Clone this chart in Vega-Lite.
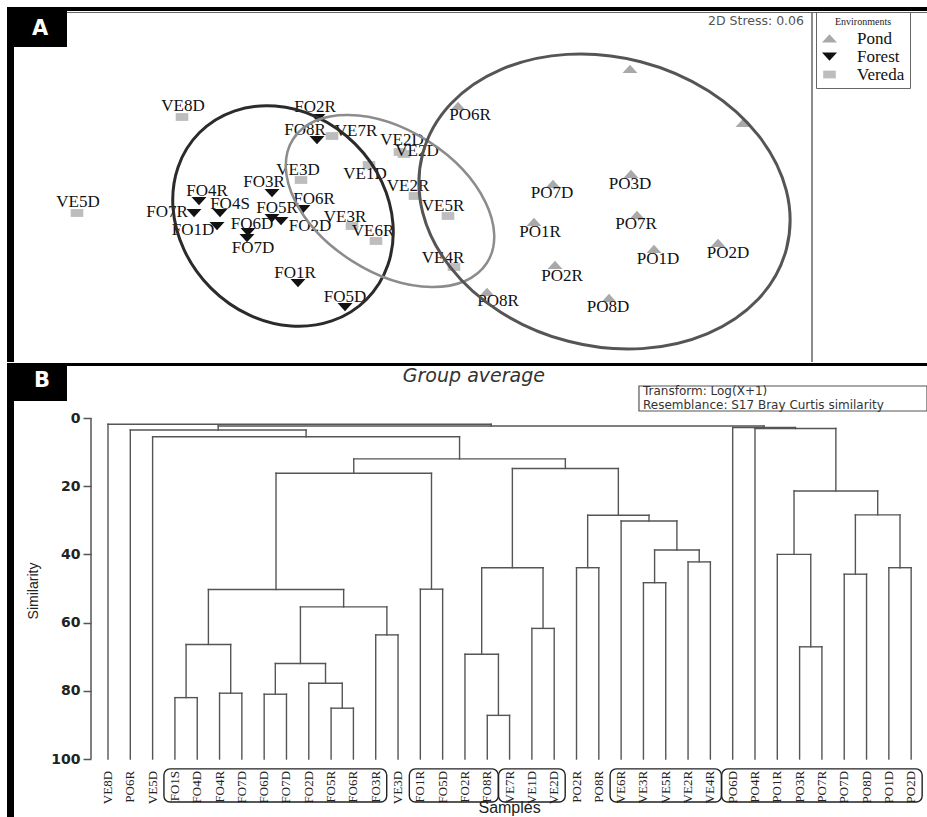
{
"$schema": "https://vega.github.io/schema/vega-lite/v6.json",
"padding": {"left": 7, "top": 7, "right": 0, "bottom": 0},
"spacing": 0,
"background": "white",
"config": {"view": {"stroke": null}, "axis": {"grid": false}},
"datasets": {
"nmds": [
{"sample":"PO6R","env":"Pond","nmds1":458,"nmds2":106},
{"sample":"PO6D","env":"Pond","nmds1":630,"nmds2":69},
{"sample":"PO4R","env":"Pond","nmds1":743,"nmds2":123},
{"sample":"PO3D","env":"Pond","nmds1":631,"nmds2":174},
{"sample":"PO7D","env":"Pond","nmds1":553,"nmds2":184},
{"sample":"PO7R","env":"Pond","nmds1":637,"nmds2":215},
{"sample":"PO1R","env":"Pond","nmds1":534,"nmds2":222},
{"sample":"PO2D","env":"Pond","nmds1":718,"nmds2":243},
{"sample":"PO1D","env":"Pond","nmds1":654,"nmds2":249},
{"sample":"PO2R","env":"Pond","nmds1":555,"nmds2":265},
{"sample":"PO8R","env":"Pond","nmds1":487,"nmds2":292},
{"sample":"PO8D","env":"Pond","nmds1":609,"nmds2":298},
{"sample":"FO2R","env":"Forest","nmds1":318,"nmds2":118},
{"sample":"FO8R","env":"Forest","nmds1":317,"nmds2":140},
{"sample":"FO3R","env":"Forest","nmds1":272,"nmds2":193},
{"sample":"FO4R","env":"Forest","nmds1":199,"nmds2":201},
{"sample":"FO7R","env":"Forest","nmds1":194,"nmds2":213},
{"sample":"FO4S","env":"Forest","nmds1":220,"nmds2":213},
{"sample":"FO5R","env":"Forest","nmds1":272,"nmds2":218},
{"sample":"FO2D","env":"Forest","nmds1":281,"nmds2":221},
{"sample":"FO6R","env":"Forest","nmds1":303,"nmds2":209},
{"sample":"FO1D","env":"Forest","nmds1":217,"nmds2":226},
{"sample":"FO6D","env":"Forest","nmds1":248,"nmds2":232},
{"sample":"FO7D","env":"Forest","nmds1":247,"nmds2":238},
{"sample":"FO1R","env":"Forest","nmds1":298,"nmds2":283},
{"sample":"FO5D","env":"Forest","nmds1":345,"nmds2":307},
{"sample":"VE8D","env":"Vereda","nmds1":182,"nmds2":117},
{"sample":"VE5D","env":"Vereda","nmds1":77,"nmds2":213},
{"sample":"VE7R","env":"Vereda","nmds1":332,"nmds2":136},
{"sample":"VE2D","env":"Vereda","nmds1":400,"nmds2":152},
{"sample":"VE2D","env":"Vereda","nmds1":404,"nmds2":154},
{"sample":"VE3D","env":"Vereda","nmds1":301,"nmds2":180},
{"sample":"VE1D","env":"Vereda","nmds1":369,"nmds2":165},
{"sample":"VE3R","env":"Vereda","nmds1":352,"nmds2":226},
{"sample":"VE6R","env":"Vereda","nmds1":376,"nmds2":241},
{"sample":"VE2R","env":"Vereda","nmds1":415,"nmds2":196},
{"sample":"VE5R","env":"Vereda","nmds1":448,"nmds2":216},
{"sample":"VE4R","env":"Vereda","nmds1":454,"nmds2":267}
],
"nmdsLabels": [
{"label":"PO6R","x":470,"y":115},{"label":"PO3D","x":630,"y":184},{"label":"PO7D","x":552,"y":193},
{"label":"PO7R","x":636,"y":224},{"label":"PO1R","x":540,"y":232},{"label":"PO2D","x":728,"y":253},
{"label":"PO1D","x":658,"y":259},{"label":"PO2R","x":562,"y":276},{"label":"PO8R","x":498,"y":301},
{"label":"PO8D","x":608,"y":307},
{"label":"FO2R","x":315,"y":107},{"label":"FO8R","x":305,"y":130},{"label":"FO3R","x":264,"y":182},
{"label":"FO4R","x":207,"y":191},{"label":"FO7R","x":167,"y":212},{"label":"FO4S","x":230,"y":204},
{"label":"FO5R","x":277,"y":208},{"label":"FO2D","x":310,"y":226},{"label":"FO6R","x":314,"y":199},
{"label":"FO1D","x":193,"y":230},{"label":"FO6D","x":252,"y":224},{"label":"FO7D","x":253,"y":248},
{"label":"FO1R","x":295,"y":273},{"label":"FO5D","x":345,"y":297},
{"label":"VE8D","x":183,"y":106},{"label":"VE5D","x":78,"y":202},{"label":"VE7R","x":356,"y":131},
{"label":"VE2D","x":402,"y":140},{"label":"VE2D","x":417,"y":151},{"label":"VE3D","x":298,"y":170},
{"label":"VE1D","x":365,"y":174},{"label":"VE3R","x":345,"y":217},{"label":"VE6R","x":373,"y":231},
{"label":"VE2R","x":408,"y":186},{"label":"VE5R","x":443,"y":206},{"label":"VE4R","x":443,"y":258}
],
"ellipses": [
{"env":"Forest","cx":283,"cy":216},
{"env":"Vereda","cx":390,"cy":201},
{"env":"Pond","cx":604.5,"cy":201.5}
],
"leaves": [
{"i":0,"name":"VE8D"},{"i":1,"name":"PO6R"},{"i":2,"name":"VE5D"},{"i":3,"name":"FO1S"},{"i":4,"name":"FO4D"},
{"i":5,"name":"FO4R"},{"i":6,"name":"FO7D"},{"i":7,"name":"FO6D"},{"i":8,"name":"FO7D"},{"i":9,"name":"FO2D"},
{"i":10,"name":"FO5R"},{"i":11,"name":"FO6R"},{"i":12,"name":"FO3R"},{"i":13,"name":"VE3D"},{"i":14,"name":"FO1R"},
{"i":15,"name":"FO5D"},{"i":16,"name":"FO2R"},{"i":17,"name":"FO8R"},{"i":18,"name":"VE7R"},{"i":19,"name":"VE1D"},
{"i":20,"name":"VE2D"},{"i":21,"name":"PO2R"},{"i":22,"name":"PO8R"},{"i":23,"name":"VE6R"},{"i":24,"name":"VE3R"},
{"i":25,"name":"VE5R"},{"i":26,"name":"VE2R"},{"i":27,"name":"VE4R"},{"i":28,"name":"PO6D"},{"i":29,"name":"PO4R"},
{"i":30,"name":"PO1R"},{"i":31,"name":"PO3R"},{"i":32,"name":"PO7R"},{"i":33,"name":"PO7D"},{"i":34,"name":"PO8D"},
{"i":35,"name":"PO1D"},{"i":36,"name":"PO2D"}
],
"nodes": [
{"node":"A","xl":3,"hl":100,"xr":4,"hr":100,"h":82.0},
{"node":"B","xl":5,"hl":100,"xr":6,"hr":100,"h":80.7},
{"node":"C","xl":3.5,"hl":82.0,"xr":5.5,"hr":80.7,"h":66.4},
{"node":"D","xl":7,"hl":100,"xr":8,"hr":100,"h":81.0},
{"node":"E","xl":10,"hl":100,"xr":11,"hr":100,"h":85.1},
{"node":"F","xl":9,"hl":100,"xr":10.5,"hr":85.1,"h":77.8},
{"node":"G","xl":7.5,"hl":81.0,"xr":9.75,"hr":77.8,"h":72.0},
{"node":"H","xl":12,"hl":100,"xr":13,"hr":100,"h":63.6},
{"node":"I","xl":8.625,"hl":72.0,"xr":12.5,"hr":63.6,"h":55.4},
{"node":"J","xl":4.5,"hl":66.4,"xr":10.5625,"hr":55.4,"h":50.3},
{"node":"K","xl":14,"hl":100,"xr":15,"hr":100,"h":50.2},
{"node":"L","xl":7.53125,"hl":50.3,"xr":14.5,"hr":50.2,"h":16.2},
{"node":"M","xl":17,"hl":100,"xr":18,"hr":100,"h":87.2},
{"node":"N","xl":16,"hl":100,"xr":17.5,"hr":87.2,"h":69.3},
{"node":"O","xl":19,"hl":100,"xr":20,"hr":100,"h":61.7},
{"node":"P","xl":16.75,"hl":69.3,"xr":19.5,"hr":61.7,"h":43.9},
{"node":"Q","xl":21,"hl":100,"xr":22,"hr":100,"h":43.9},
{"node":"R","xl":24,"hl":100,"xr":25,"hr":100,"h":48.3},
{"node":"S","xl":26,"hl":100,"xr":27,"hr":100,"h":42.2},
{"node":"T","xl":24.5,"hl":48.3,"xr":26.5,"hr":42.2,"h":38.7},
{"node":"U","xl":23,"hl":100,"xr":25.5,"hr":38.7,"h":30.2},
{"node":"V","xl":21.5,"hl":43.9,"xr":24.25,"hr":30.2,"h":28.5},
{"node":"W","xl":18.125,"hl":43.9,"xr":22.875,"hr":28.5,"h":14.8},
{"node":"X","xl":11.015625,"hl":16.2,"xr":20.5,"hr":14.8,"h":12.0},
{"node":"Y","xl":2,"hl":100,"xr":15.7578,"hr":12.0,"h":5.5},
{"node":"Z","xl":1,"hl":100,"xr":8.8789,"hr":5.5,"h":3.5},
{"node":"a","xl":31,"hl":100,"xr":32,"hr":100,"h":67.1},
{"node":"b","xl":30,"hl":100,"xr":31.5,"hr":67.1,"h":40.0},
{"node":"c","xl":33,"hl":100,"xr":34,"hr":100,"h":45.8},
{"node":"d","xl":35,"hl":100,"xr":36,"hr":100,"h":43.9},
{"node":"e","xl":33.5,"hl":45.8,"xr":35.5,"hr":43.9,"h":28.4},
{"node":"f","xl":30.75,"hl":40.0,"xr":34.5,"hr":28.4,"h":21.4},
{"node":"g","xl":29,"hl":100,"xr":32.625,"hr":21.4,"h":3.1},
{"node":"h","xl":28,"hl":100,"xr":30.8125,"hr":3.1,"h":2.8},
{"node":"i","xl":4.9395,"hl":3.5,"xr":29.40625,"hr":2.8,"h":2.35},
{"node":"root","xl":0,"hl":100,"xr":17.1729,"hr":2.35,"h":1.85}
],
"groups": [
{"from":3,"to":12},{"from":14,"to":17},{"from":18,"to":20},{"from":23,"to":27},{"from":28,"to":36}
]
},
"vconcat": [
{
"width": 920, "height": 355,
"layer": [
{"data": {"values": [{}]}, "mark": {"type": "rect", "color": "black"},
 "encoding": {"x": {"datum": 7, "type": "quantitative", "scale": {"domain": [7, 927], "nice": false, "zero": false}, "axis": null},
  "x2": {"datum": 927}, "y": {"datum": 7, "type": "quantitative", "scale": {"domain": [7, 362], "nice": false, "zero": false, "reverse": true}, "axis": null}, "y2": {"datum": 11}}},
{"data": {"values": [{}]}, "mark": {"type": "rect", "color": "black"},
 "encoding": {"x": {"datum": 7, "type": "quantitative", "scale": {"domain": [7, 927], "nice": false, "zero": false}, "axis": null},
  "x2": {"datum": 14}, "y": {"datum": 7, "type": "quantitative", "scale": {"domain": [7, 362], "nice": false, "zero": false, "reverse": true}, "axis": null}, "y2": {"datum": 362}}},
{"data": {"values": [{}]}, "mark": {"type": "rect", "color": "black"},
 "encoding": {"x": {"datum": 7, "type": "quantitative", "scale": {"domain": [7, 927], "nice": false, "zero": false}, "axis": null},
  "x2": {"datum": 67}, "y": {"datum": 7, "type": "quantitative", "scale": {"domain": [7, 362], "nice": false, "zero": false, "reverse": true}, "axis": null}, "y2": {"datum": 47}}},
{"data": {"values": [{}]}, "mark": {"type": "text", "text": "A", "color": "white", "font": "DejaVu Sans", "fontWeight": "bold", "fontSize": 21, "align": "center", "baseline": "middle"},
 "encoding": {"x": {"datum": 40, "type": "quantitative", "scale": {"domain": [7, 927], "nice": false, "zero": false}, "axis": null},
  "y": {"datum": 29, "type": "quantitative", "scale": {"domain": [7, 362], "nice": false, "zero": false, "reverse": true}, "axis": null}}},
{"data": {"values": [{}]}, "mark": {"type": "rule", "color": "#666", "strokeWidth": 1},
 "encoding": {"x": {"datum": 67, "type": "quantitative", "scale": {"domain": [7, 927], "nice": false, "zero": false}, "axis": null},
  "x2": {"datum": 927}, "y": {"datum": 12.5, "type": "quantitative", "scale": {"domain": [7, 362], "nice": false, "zero": false, "reverse": true}, "axis": null}}},
{"data": {"values": [{}]}, "mark": {"type": "rule", "color": "#666", "strokeWidth": 1.5},
 "encoding": {"x": {"datum": 812, "type": "quantitative", "scale": {"domain": [7, 927], "nice": false, "zero": false}, "axis": null},
  "y": {"datum": 12, "type": "quantitative", "scale": {"domain": [7, 362], "nice": false, "zero": false, "reverse": true}, "axis": null}, "y2": {"datum": 362}}},
{"data": {"values": [{}]}, "mark": {"type": "text", "text": "2D Stress: 0.06", "color": "#555", "font": "DejaVu Sans", "fontSize": 12.5, "align": "right", "baseline": "middle"},
 "encoding": {"x": {"datum": 804, "type": "quantitative", "scale": {"domain": [7, 927], "nice": false, "zero": false}, "axis": null},
  "y": {"datum": 21, "type": "quantitative", "scale": {"domain": [7, 362], "nice": false, "zero": false, "reverse": true}, "axis": null}}},
{"data": {"name": "nmds"},
 "mark": {"type": "point", "filled": true, "opacity": 1, "size": 144, "strokeWidth": 0},
 "encoding": {
  "x": {"field": "nmds1", "type": "quantitative", "scale": {"domain": [7, 927], "nice": false, "zero": false}, "axis": null},
  "y": {"field": "nmds2", "type": "quantitative", "scale": {"domain": [7, 362], "nice": false, "zero": false, "reverse": true}, "axis": null},
  "shape": {"field": "env", "type": "nominal", "title": "Environments",
   "scale": {"domain": ["Pond", "Forest", "Vereda"], "range": ["M 0 -0.7 L 1.25 0.65 L -1.25 0.65 Z", "M 0 0.7 L 1.25 -0.65 L -1.25 -0.65 Z", "M -1.05 -0.65 L 1.05 -0.65 L 1.05 0.65 L -1.05 0.65 Z"]},
   "legend": {"orient": "none", "legendX": 809, "legendY": 5, "direction": "vertical", "titleFont": "Liberation Serif", "titleFontSize": 10, "titleFontWeight": "normal", "titleColor": "#222", "titleAnchor": "middle", "titlePadding": 3, "labelFont": "Liberation Serif", "labelFontSize": 17, "labelColor": "#111", "labelOffset": 19, "symbolSize": 144, "symbolStrokeWidth": 0, "symbolOpacity": 1, "strokeColor": "#666", "padding": 5, "rowPadding": 0, "labelLimit": 200}},
  "color": {"field": "env", "type": "nominal", "title": "Environments",
   "scale": {"domain": ["Pond", "Forest", "Vereda"], "range": ["#a9a9a9", "#111111", "#bdbdbd"]},
   "legend": {"orient": "none", "legendX": 809, "legendY": 5, "direction": "vertical", "titleFont": "Liberation Serif", "titleFontSize": 10, "titleFontWeight": "normal", "titleColor": "#222", "titleAnchor": "middle", "titlePadding": 3, "labelFont": "Liberation Serif", "labelFontSize": 17, "labelColor": "#111", "labelOffset": 19, "symbolSize": 144, "symbolStrokeWidth": 0, "symbolOpacity": 1, "strokeColor": "#666", "padding": 5, "rowPadding": 0, "labelLimit": 200}}
 }},
{"data": {"name": "nmdsLabels"},
 "mark": {"type": "text", "font": "Liberation Serif", "fontSize": 17, "color": "#111", "align": "center", "baseline": "middle"},
 "encoding": {
  "x": {"field": "x", "type": "quantitative", "scale": {"domain": [7, 927], "nice": false, "zero": false}, "axis": null},
  "y": {"field": "y", "type": "quantitative", "scale": {"domain": [7, 362], "nice": false, "zero": false, "reverse": true}, "axis": null},
  "text": {"field": "label"}}},
{"data": {"name": "ellipses"}, "transform": [{"filter": "datum.env === 'Forest'"}],
 "mark": {"type": "point", "filled": false, "opacity": 1, "color": "#2b2b2b", "strokeWidth": 3, "size": 55696, "angle": 45,
  "shape": "M 1 0 C 1 0.4772 0.5523 0.864 0 0.864 C -0.5523 0.864 -1 0.4772 -1 0 C -1 -0.4772 -0.5523 -0.864 0 -0.864 C 0.5523 -0.864 1 -0.4772 1 0 Z"},
 "encoding": {
  "x": {"field": "cx", "type": "quantitative", "scale": {"domain": [7, 927], "nice": false, "zero": false}, "axis": null},
  "y": {"field": "cy", "type": "quantitative", "scale": {"domain": [7, 362], "nice": false, "zero": false, "reverse": true}, "axis": null}}},
{"data": {"name": "ellipses"}, "transform": [{"filter": "datum.env === 'Vereda'"}],
 "mark": {"type": "point", "filled": false, "opacity": 1, "color": "#8c8c8c", "strokeWidth": 2.5, "size": 52900, "angle": 32.5,
  "shape": "M 1 0 C 1 0.3408 0.5523 0.617 0 0.617 C -0.5523 0.617 -1 0.3408 -1 0 C -1 -0.3408 -0.5523 -0.617 0 -0.617 C 0.5523 -0.617 1 -0.3408 1 0 Z"},
 "encoding": {
  "x": {"field": "cx", "type": "quantitative", "scale": {"domain": [7, 927], "nice": false, "zero": false}, "axis": null},
  "y": {"field": "cy", "type": "quantitative", "scale": {"domain": [7, 362], "nice": false, "zero": false, "reverse": true}, "axis": null}}},
{"data": {"name": "ellipses"}, "transform": [{"filter": "datum.env === 'Pond'"}],
 "mark": {"type": "point", "filled": false, "opacity": 1, "color": "#555555", "strokeWidth": 3, "size": 141376, "angle": 14.5,
  "shape": "M 1 0 C 1 0.4242 0.5523 0.768 0 0.768 C -0.5523 0.768 -1 0.4242 -1 0 C -1 -0.4242 -0.5523 -0.768 0 -0.768 C 0.5523 -0.768 1 -0.4242 1 0 Z"},
 "encoding": {
  "x": {"field": "cx", "type": "quantitative", "scale": {"domain": [7, 927], "nice": false, "zero": false}, "axis": null},
  "y": {"field": "cy", "type": "quantitative", "scale": {"domain": [7, 362], "nice": false, "zero": false, "reverse": true}, "axis": null}}}
]
},
{
"width": 920, "height": 455,
"layer": [
{"data": {"name": "nodes"},
 "mark": {"type": "rule", "color": "#555", "strokeWidth": 1.4, "strokeCap": "square"},
 "encoding": {
  "x": {"field": "xl", "type": "quantitative", "scale": {"domain": [-4.527, 36.71], "nice": false, "zero": false}, "axis": null},
  "x2": {"field": "xr"},
  "y": {"field": "h", "type": "quantitative", "title": "Similarity", "scale": {"domain": [-16.13, 117.3], "nice": false, "zero": false, "reverse": true},
   "axis": {"values": [0, 20, 40, 60, 80, 100], "offset": -84, "domain": false, "tickSize": 8, "tickColor": "#555", "tickWidth": 1.5, "labelFont": "DejaVu Sans", "labelFontWeight": "bold", "labelFontSize": 14, "labelColor": "#222", "labelPadding": 3, "titleFont": "Liberation Sans", "titleFontSize": 14, "titleFontWeight": "normal", "titleColor": "#222", "titlePadding": 10, "grid": false}}}},
{"data": {"name": "nodes"},
 "mark": {"type": "rule", "color": "#555", "strokeWidth": 1.4, "strokeCap": "square"},
 "encoding": {
  "x": {"field": "xl", "type": "quantitative", "scale": {"domain": [-4.527, 36.71], "nice": false, "zero": false}, "axis": null},
  "y": {"field": "hl", "type": "quantitative", "title": "Similarity", "scale": {"domain": [-16.13, 117.3], "nice": false, "zero": false, "reverse": true}},
  "y2": {"field": "h"}}},
{"data": {"name": "nodes"},
 "mark": {"type": "rule", "color": "#555", "strokeWidth": 1.4, "strokeCap": "square"},
 "encoding": {
  "x": {"field": "xr", "type": "quantitative", "scale": {"domain": [-4.527, 36.71], "nice": false, "zero": false}, "axis": null},
  "y": {"field": "hr", "type": "quantitative", "title": "Similarity", "scale": {"domain": [-16.13, 117.3], "nice": false, "zero": false, "reverse": true}},
  "y2": {"field": "h"}}},
{"data": {"values": [{}]}, "mark": {"type": "rect", "color": "black"},
 "encoding": {"x": {"datum": -4.527, "type": "quantitative", "scale": {"domain": [-4.527, 36.71], "nice": false, "zero": false}, "axis": null},
  "x2": {"datum": 36.71}, "y": {"datum": -16.13, "type": "quantitative", "title": "Similarity"}, "y2": {"datum": -15.25}}},
{"data": {"values": [{}]}, "mark": {"type": "rect", "color": "black"},
 "encoding": {"x": {"datum": -4.527, "type": "quantitative", "scale": {"domain": [-4.527, 36.71], "nice": false, "zero": false}, "axis": null},
  "x2": {"datum": -4.213}, "y": {"datum": -16.13, "type": "quantitative", "title": "Similarity"}, "y2": {"datum": 117.3}}},
{"data": {"values": [{}]}, "mark": {"type": "rect", "color": "black"},
 "encoding": {"x": {"datum": -4.527, "type": "quantitative", "scale": {"domain": [-4.527, 36.71], "nice": false, "zero": false}, "axis": null},
  "x2": {"datum": -1.838}, "y": {"datum": -16.13, "type": "quantitative", "title": "Similarity"}, "y2": {"datum": -4.99}}},
{"data": {"values": [{}]}, "mark": {"type": "text", "text": "B", "color": "white", "font": "DejaVu Sans", "fontWeight": "bold", "fontSize": 21, "align": "center", "baseline": "middle"},
 "encoding": {"x": {"datum": -2.958, "type": "quantitative", "scale": {"domain": [-4.527, 36.71], "nice": false, "zero": false}, "axis": null},
  "y": {"datum": -10.85, "type": "quantitative", "title": "Similarity"}}},
{"data": {"values": [{}]}, "mark": {"type": "text", "text": "Group average", "color": "#333", "font": "DejaVu Sans", "fontStyle": "italic", "fontSize": 19, "align": "center", "baseline": "middle"},
 "encoding": {"x": {"datum": 16.4, "type": "quantitative", "scale": {"domain": [-4.527, 36.71], "nice": false, "zero": false}, "axis": null},
  "y": {"datum": -12.3, "type": "quantitative", "title": "Similarity"}}},
{"data": {"values": [{}]}, "mark": {"type": "rect", "filled": false, "color": "#555", "strokeWidth": 1.2},
 "encoding": {"x": {"datum": 23.8, "type": "quantitative", "scale": {"domain": [-4.527, 36.71], "nice": false, "zero": false}, "axis": null},
  "x2": {"datum": 36.71}, "y": {"datum": -9.38, "type": "quantitative", "title": "Similarity"}, "y2": {"datum": -2.05}}},
{"data": {"values": [{}]}, "mark": {"type": "text", "text": "Transform: Log(X+1)", "color": "#333", "font": "DejaVu Sans", "fontSize": 12, "align": "left", "baseline": "middle"},
 "encoding": {"x": {"datum": 23.98, "type": "quantitative", "scale": {"domain": [-4.527, 36.71], "nice": false, "zero": false}, "axis": null},
  "y": {"datum": -7.8, "type": "quantitative", "title": "Similarity"}}},
{"data": {"values": [{}]}, "mark": {"type": "text", "text": "Resemblance: S17 Bray Curtis similarity", "color": "#333", "font": "DejaVu Sans", "fontSize": 12, "align": "left", "baseline": "middle"},
 "encoding": {"x": {"datum": 23.98, "type": "quantitative", "scale": {"domain": [-4.527, 36.71], "nice": false, "zero": false}, "axis": null},
  "y": {"datum": -3.8, "type": "quantitative", "title": "Similarity"}}},
{"data": {"values": [{}]}, "mark": {"type": "rule", "color": "#555", "strokeWidth": 1.5},
 "encoding": {"x": {"datum": -0.762, "type": "quantitative", "scale": {"domain": [-4.527, 36.71], "nice": false, "zero": false}, "axis": null},
  "y": {"datum": 0, "type": "quantitative", "title": "Similarity"}, "y2": {"datum": 100}}},
{"data": {"name": "groups"},
 "mark": {"type": "rect", "filled": false, "color": "#222", "strokeWidth": 1.4, "cornerRadius": 6, "xOffset": -11, "x2Offset": 11},
 "encoding": {
  "x": {"field": "from", "type": "quantitative", "scale": {"domain": [-4.527, 36.71], "nice": false, "zero": false}, "axis": null},
  "x2": {"field": "to"},
  "y": {"datum": 102.9, "type": "quantitative", "title": "Similarity"},
  "y2": {"datum": 112.6}}},
{"data": {"name": "leaves"},
 "mark": {"type": "text", "angle": 270, "align": "right", "baseline": "middle", "font": "Liberation Serif", "fontSize": 13, "color": "#222"},
 "encoding": {
  "x": {"field": "i", "type": "quantitative", "scale": {"domain": [-4.527, 36.71], "nice": false, "zero": false}, "axis": null},
  "y": {"datum": 103.5, "type": "quantitative", "title": "Similarity"},
  "text": {"field": "name"}}},
{"data": {"values": [{}]}, "mark": {"type": "text", "text": "Samples", "color": "#222", "font": "Liberation Sans", "fontSize": 16, "align": "center", "baseline": "middle"},
 "encoding": {"x": {"datum": 18.0, "type": "quantitative", "scale": {"domain": [-4.527, 36.71], "nice": false, "zero": false}, "axis": null},
  "y": {"datum": 114.4, "type": "quantitative", "title": "Similarity"}}}
]
}
]
}
